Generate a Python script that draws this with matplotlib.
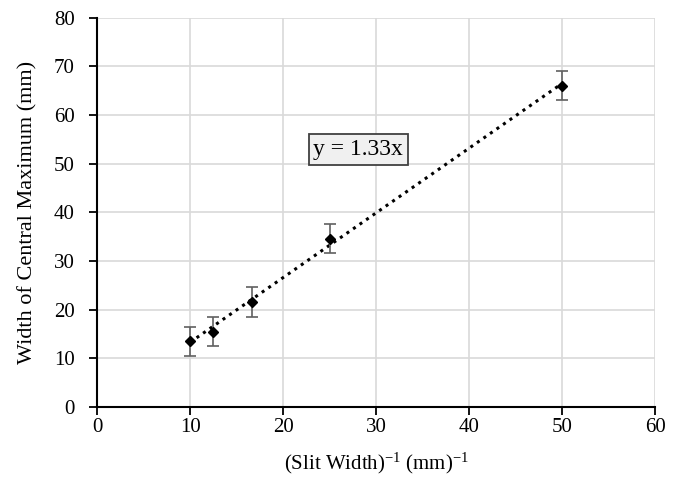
import numpy as np
import matplotlib
matplotlib.use("Agg")
import matplotlib.pyplot as plt

plt.rcParams['font.family'] = ['Liberation Serif', 'DejaVu Serif']
plt.rcParams['mathtext.fontset'] = 'custom'
plt.rcParams['mathtext.rm'] = 'Liberation Serif'
plt.rcParams['mathtext.it'] = 'Liberation Serif:italic'
plt.rcParams['mathtext.bf'] = 'Liberation Serif:bold'

# datos
inv_ancho = [10, 12.5, 16.67, 25, 50]
ancho_max = [13.5, 15.5, 21.6, 34.6, 66.0]
error_y = [3, 3, 3, 3, 3]
pendiente = 1.33

fig = plt.figure(figsize=(6.74, 4.8), dpi=100)
ax = fig.add_axes([0.144, 0.152, 0.828, 0.811])

ax.errorbar(inv_ancho, ancho_max, yerr=error_y, fmt='D', color='black',
            markersize=5.5, ecolor='#606060', elinewidth=1.2, capsize=4,
            capthick=1.2, zorder=3)

xs = np.array([min(inv_ancho), max(inv_ancho)])
ax.plot(xs, pendiente * xs, linestyle=(0, (1, 1.6)), color='black',
        linewidth=2.2, zorder=2)

ax.text(28.1, 52.9, f"y = {pendiente}x", fontsize=17, ha='center', va='center',
        bbox=dict(boxstyle='square,pad=0.2', facecolor='#f0f0f0',
                  edgecolor='#404040', linewidth=1.3))

ax.set_xlim(0, 60)
ax.set_ylim(0, 80)
ax.set_xticks(range(0, 61, 10))
ax.set_yticks(range(0, 81, 10))
ax.grid(True, color='#d9d9d9', linewidth=1.2)
ax.set_axisbelow(True)
for s in ['top', 'right']:
    ax.spines[s].set_visible(False)
for s in ['left', 'bottom']:
    ax.spines[s].set_color('black')
    ax.spines[s].set_linewidth(1.5)
ax.tick_params(axis='both', direction='out', length=6, width=1.3,
               labelsize=15, colors='black')
ax.tick_params(axis='y', pad=10)
ax.tick_params(axis='x', pad=2)

ax.set_xlabel(r'(Slit Width)$^{-1}$ (mm)$^{-1}$', fontsize=15, labelpad=10)
ax.set_ylabel('Width of Central Maximum (mm)', fontsize=16, labelpad=12)

plt.savefig('out.png', dpi=100)
